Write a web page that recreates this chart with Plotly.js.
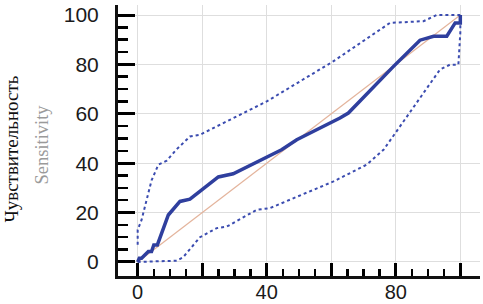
<!DOCTYPE html>
<html>
<head>
<meta charset="utf-8">
<script src="https://cdn.plot.ly/plotly-3.0.1.min.js"></script>
<style>html,body{margin:0;padding:0;background:#fff;}#chart{width:483px;height:304px;}</style>
</head>
<body>
<div id="chart"></div>
<script>
// ROC curve (1 - specificity, sensitivity)
const rocX = [0, 0.5, 1.2, 3.3, 4.3, 5.0, 6.1, 9.5, 13.1, 16.2, 25.0, 29.6, 44.6, 49.3, 62.7, 65.3, 79.3, 87.5, 91.7, 95.8, 98.4, 100, 100];
const rocY = [0, 1.5, 1.5, 4.2, 4.2, 6.9, 6.9, 19.0, 24.5, 25.4, 34.4, 35.7, 45.4, 49.5, 58.3, 60.3, 79.2, 89.8, 91.4, 91.4, 96.8, 96.8, 100];
// upper confidence bound
const upX = [0, 0, 1.2, 2.8, 4.3, 6.4, 9.0, 12.0, 16.2, 19.3, 40.0, 60.7, 78.2, 88.6, 92.7, 100];
const upY = [7, 13, 17, 25, 33, 39.4, 41, 45.5, 50.8, 51.5, 65, 81.3, 96.8, 97.5, 100, 100];
// lower confidence bound
const loX = [0, 12.1, 14.1, 19.3, 24.5, 27.6, 36.9, 41.0, 60.7, 71.0, 76.2, 81.3, 93.7, 96.8, 99.4, 100, 100];
const loY = [0, 0.5, 1.9, 10, 13.7, 14.3, 21.1, 21.8, 32.6, 39.4, 45.4, 54.9, 77.9, 79.9, 79.9, 92.8, 100];
// reference diagonal
const diagX = [0, 100];
const diagY = [0, 100];
const tickVals = [0, 20, 40, 60, 80, 100];
const minorVals = [5, 10, 15, 25, 30, 35, 45, 50, 55, 65, 70, 75, 85, 90, 95];
const xTickText = ['0', '', '40', '', '80', ''];
const yTickText = ['0', '20', '40', '60', '80', '100'];
const yTitleRu = 'Чувствительность';
const yTitleEn = 'Sensitivity';

const blue = '#2f3f9e';
const traces = [
  {x: diagX, y: diagY, mode: 'lines', line: {color: '#e4b49c', width: 1.2}, hoverinfo: 'skip'},
  {x: upX, y: upY, mode: 'lines', line: {color: '#3b4cb0', width: 2, dash: 'dot'}},
  {x: loX, y: loY, mode: 'lines', line: {color: '#3b4cb0', width: 2, dash: 'dot'}},
  {x: rocX, y: rocY, mode: 'lines', line: {color: blue, width: 3.5}}
];
const layout = {
  width: 483, height: 304,
  margin: {l: 118, r: 3, t: 5, b: 28},
  paper_bgcolor: '#fff', plot_bgcolor: '#fff',
  showlegend: false,
  font: {family: 'Liberation Sans, Arial, sans-serif', size: 21, color: '#1a1a1a'},
  xaxis: {
    range: [-6.1, 106.1], tickmode: 'array', tickvals: tickVals, ticktext: xTickText,
    ticks: 'inside', ticklen: 13, tickwidth: 3, tickcolor: '#000000',
    showline: true, linecolor: '#111', linewidth: 3,
    showgrid: true, gridcolor: '#dedede', gridwidth: 1, zeroline: false,
    minor: {tickmode: 'array', tickvals: minorVals, ticks: 'inside', ticklen: 7, tickwidth: 2.5, tickcolor: '#000000', showgrid: false},
    tickfont: {size: 20},
    ticklabelstandoff: -4, fixedrange: true, layer: 'above traces'
  },
  yaxis: {
    range: [-5.7, 104.05], tickmode: 'array', tickvals: tickVals, ticktext: yTickText,
    ticks: 'inside', ticklen: 17, tickwidth: 3, tickcolor: '#000000',
    showline: true, linecolor: '#111', linewidth: 3,
    showgrid: true, gridcolor: '#dedede', gridwidth: 1, zeroline: false,
    minor: {tickmode: 'array', tickvals: minorVals, ticks: 'inside', ticklen: 10, tickwidth: 2.5, tickcolor: '#000000', showgrid: false},
    ticklabelstandoff: 12, fixedrange: true, layer: 'above traces'
  },
  annotations: [
    {text: yTitleRu, xref: 'paper', yref: 'paper', x: -0.293, y: 0.47, xanchor: 'center', yanchor: 'middle',
     textangle: -90, showarrow: false, font: {family: 'Liberation Serif, Times New Roman, serif', size: 19, color: '#111'}},
    {text: yTitleEn, xref: 'paper', yref: 'paper', x: -0.21, y: 0.485, xanchor: 'center', yanchor: 'middle',
     textangle: -90, showarrow: false, font: {family: 'Liberation Serif, Times New Roman, serif', size: 18.5, color: '#9a9a9a'}}
  ]
};
Plotly.newPlot('chart', traces, layout, {displayModeBar: false, staticPlot: true});
</script>
</body>
</html>
